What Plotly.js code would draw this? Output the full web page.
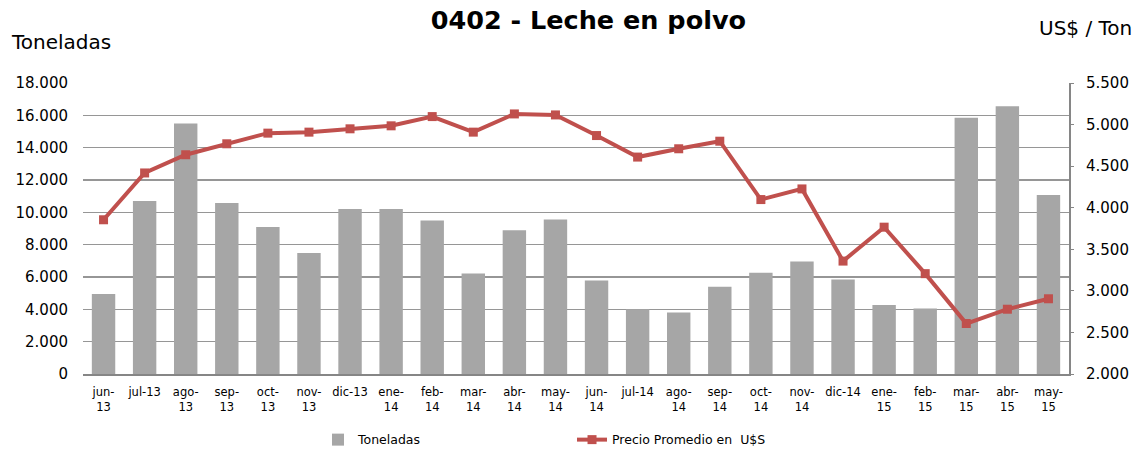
<!DOCTYPE html>
<html>
<head>
<meta charset="utf-8">
<script src="https://cdn.plot.ly/plotly-3.0.1.min.js"></script>
<style>html,body{margin:0;padding:0;background:#fff;}#chart{width:1137px;height:453px;}</style>
</head>
<body>
<div id="chart"></div>
<script>
const categories = ['jun-13','jul-13','ago-13','sep-13','oct-13','nov-13','dic-13','ene-14','feb-14','mar-14','abr-14','may-14','jun-14','jul-14','ago-14','sep-14','oct-14','nov-14','dic-14','ene-15','feb-15','mar-15','abr-15','may-15'];
const tickLabels = ['jun-<br>13','jul-13','ago-<br>13','sep-<br>13','oct-<br>13','nov-<br>13','dic-13','ene-<br>14','feb-<br>14','mar-<br>14','abr-<br>14','may-<br>14','jun-<br>14','jul-14','ago-<br>14','sep-<br>14','oct-<br>14','nov-<br>14','dic-14','ene-<br>15','feb-<br>15','mar-<br>15','abr-<br>15','may-<br>15'];
const toneladas = [4950,10700,15500,10580,9100,7480,10200,10200,9500,6220,8890,9550,5790,4010,3800,5400,6270,6960,5840,4270,4050,15850,16560,11070];
const precio = [3855,4418,4637,4769,4897,4909,4949,4985,5096,4909,5128,5116,4868,4609,4709,4800,4098,4226,3358,3766,3207,2607,2779,2905];

const font = 'DejaVu Sans, Verdana, sans-serif';
const barColor = '#a6a6a6';
const traces = [
  {type:'bar', name:'Toneladas', x:categories, y:toneladas, marker:{color:barColor}, yaxis:'y'},
  {type:'scatter', mode:'lines+markers', name:'Precio Promedio en  U$S', x:categories, y:precio, yaxis:'y2',
   line:{color:'#c0504d', width:4}, marker:{symbol:'square', size:9, color:'#c0504d'}}
];
const layout = {
  width:1137, height:453,
  margin:{l:83, r:68, t:83, b:79},
  paper_bgcolor:'#fff', plot_bgcolor:'#fff',
  separators:',.',
  font:{family:font, size:13, color:'#000'},
  title:{text:'<b>0402 - Leche en polvo</b>', x:0.5175, xanchor:'center', y:0.956, yanchor:'middle',
         font:{family:'DejaVu Sans, Verdana, sans-serif', size:25.5, color:'#000'}},
  showlegend:true,
  legend:{orientation:'h', xref:'container', yref:'container', x:0.2797, xanchor:'left', y:0.0287, yanchor:'middle',
          font:{family:font, size:12.5}, entrywidth:209, entrywidthmode:'pixels', traceorder:'normal'},
  bargap:0.43,
  xaxis:{type:'category', tickvals:categories, ticktext:tickLabels, tickfont:{size:11.5},
         showgrid:false, showline:true, linecolor:'#868686', linewidth:2, ticks:'outside', ticklen:6,
         tickcolor:'rgba(0,0,0,0)', range:[-0.5,23.5]},
  yaxis:{range:[0,18000], dtick:2000, tickformat:',d', showgrid:true, gridcolor:'#969696', gridwidth:1.5,
         zeroline:false, showline:false, ticks:'', tickfont:{size:15}, ticklabelstandoff:14},
  yaxis2:{range:[2000,5500], dtick:500, tickformat:',d', overlaying:'y', side:'right', showgrid:false,
          zeroline:false, showline:true, linecolor:'#868686', linewidth:2, ticks:'outside', ticklen:3, tickcolor:'#868686',
          tickfont:{size:15}, ticklabelstandoff:9},
  annotations:[
    {text:'Toneladas', xref:'paper', yref:'paper', x:-0.075, y:1.14, xanchor:'left', yanchor:'middle', showarrow:false,
     font:{family:font, size:20}},
    {text:'US$ / Ton', xref:'paper', yref:'paper', x:1.0659, y:1.19, xanchor:'right', yanchor:'middle', showarrow:false,
     font:{family:font, size:20}}
  ]
};
Plotly.newPlot('chart', traces, layout, {displayModeBar:false, staticPlot:true});
</script>
</body>
</html>
